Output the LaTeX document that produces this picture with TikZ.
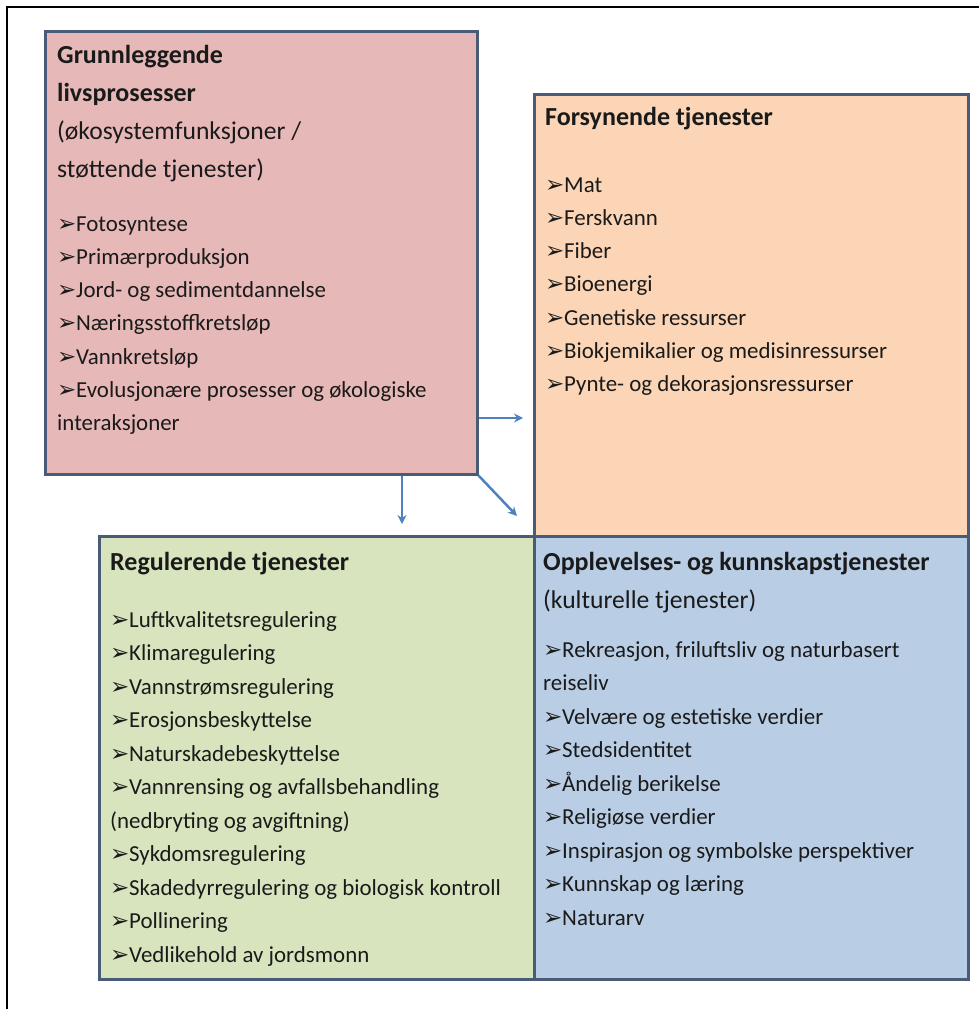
\documentclass[tikz,border=0pt]{standalone}
\usepackage{fontspec}
\setmainfont{Carlito}
\newfontfamily\pilfont{DejaVu Sans}
\usetikzlibrary{arrows.meta,shadows}
\definecolor{rammelinje}{HTML}{4A5B78}
\definecolor{rosa}{HTML}{E6B9B8}
\definecolor{fersken}{HTML}{FBD5B5}
\definecolor{lysgronn}{HTML}{D7E4BD}
\definecolor{lysblaa}{HTML}{B9CDE5}
\definecolor{pilblaa}{HTML}{4F81BD}
\definecolor{tekst}{HTML}{1A1A1A}
\newcommand{\pil}{\makebox[19pt][l]{\pilfont\fontsize{23}{23}\selectfont ➢}}
\tikzset{
  boks/.style={draw=rammelinje, line width=2.5pt, anchor=north west, inner sep=0pt,
    drop shadow={opacity=0.35, shadow xshift=2pt, shadow yshift=-2pt}},
  tittel/.style={anchor=base west, inner sep=0pt, text=tekst,
    font=\fontsize{26}{30}\selectfont\bfseries},
  undertittel/.style={anchor=base west, inner sep=0pt, text=tekst,
    font=\fontsize{25.6}{30}\selectfont},
  punkt/.style={anchor=base west, inner sep=0pt, text=tekst,
    font=\fontsize{22.9}{26}\selectfont},
  flyt/.style={draw=pilblaa, line width=2.5pt, -{Stealth[length=9pt,width=9pt]}}
}

\begin{document}
\begin{tikzpicture}[x=1pt, y=-1pt]
  \useasboundingbox (0,0) rectangle (979,1009);
  % frame of the cut-out
  \draw[line width=1.5pt] (7,1009) -- (7,7) -- (979,7);

  % the four boxes
  \node[boks, fill=rosa, minimum width=432pt, minimum height=443pt] (liv) at (44,30) {};
  \node[boks, fill=fersken, minimum width=434pt, minimum height=442pt] (forsyn) at (533,93) {};
  \node[boks, fill=lysgronn, minimum width=435pt, minimum height=443pt] (regul) at (98,535) {};
  \node[boks, fill=lysblaa, minimum width=434pt, minimum height=443pt] (kultur) at (533,535) {};

  % Grunnleggende livsprosesser
  \node[tittel] (liv1) at (57,63) {Grunnleggende};
  \node[tittel] (liv2) at (57,101) {livsprosesser};
  \node[undertittel] (liv3) at (57,139) {(økosystemfunksjoner /};
  \node[undertittel] (liv4) at (57,177) {støttende tjenester)};
  \foreach \t [count=\i from 0] in {\pil Fotosyntese, \pil Primærproduksjon,
      \pil Jord- og sedimentdannelse, \pil Næringsstoffkretsløp, \pil Vannkretsløp,
      \pil Evolusjonære prosesser og økologiske, interaksjoner}
    \node[punkt] (gl\i) at (57,231+33.3*\i) {\t};

  % Forsynende tjenester
  \node[tittel] (fo0) at (545,125) {Forsynende tjenester};
  \foreach \t [count=\i from 0] in {\pil Mat, \pil Ferskvann, \pil Fiber, \pil Bioenergi,
      \pil Genetiske ressurser, \pil Biokjemikalier og medisinressurser,
      \pil Pynte- og dekorasjonsressurser}
    \node[punkt] (fo\i) at (545,192+33.3*\i) {\t};

  % Regulerende tjenester
  \node[tittel] (re0) at (110,570) {Regulerende tjenester};
  \foreach \t [count=\i from 0] in {\pil Luftkvalitetsregulering, \pil Klimaregulering,
      \pil Vannstrømsregulering, \pil Erosjonsbeskyttelse, \pil Naturskadebeskyttelse,
      \pil Vannrensing og avfallsbehandling, (nedbryting og avgiftning),
      \pil Sykdomsregulering, \pil Skadedyrregulering og biologisk kontroll,
      \pil Pollinering, \pil Vedlikehold av jordsmonn}
    \node[punkt] (re\i) at (110,627+33.5*\i) {\t};

  % Opplevelses- og kunnskapstjenester
  \node[tittel] (ku0) at (543,570) {Opplevelses- og kunnskapstjenester};
  \node[undertittel] (kuU) at (543,608) {(kulturelle tjenester)};
  \foreach \t [count=\i from 0] in {{\pil Rekreasjon, friluftsliv og naturbasert}, reiseliv,
      \pil Velvære og estetiske verdier, \pil Stedsidentitet, \pil Åndelig berikelse,
      \pil Religiøse verdier, \pil Inspirasjon og symbolske perspektiver,
      \pil Kunnskap og læring, \pil Naturarv}
    \node[punkt] (ku\i) at (543,657+33.5*\i) {\t};

  % arrows out of the basic processes
  \coordinate (tilForsyn) at (523,418);
  \coordinate (tilRegul) at (402,524);
  \coordinate (tilKultur) at (517,516);
  \draw[flyt] (liv.east |- tilForsyn) -- (tilForsyn);
  \draw[flyt] (liv.south -| tilRegul) -- (tilRegul);
  \draw[flyt] (liv.south east) -- (tilKultur);
\end{tikzpicture}
\end{document}
